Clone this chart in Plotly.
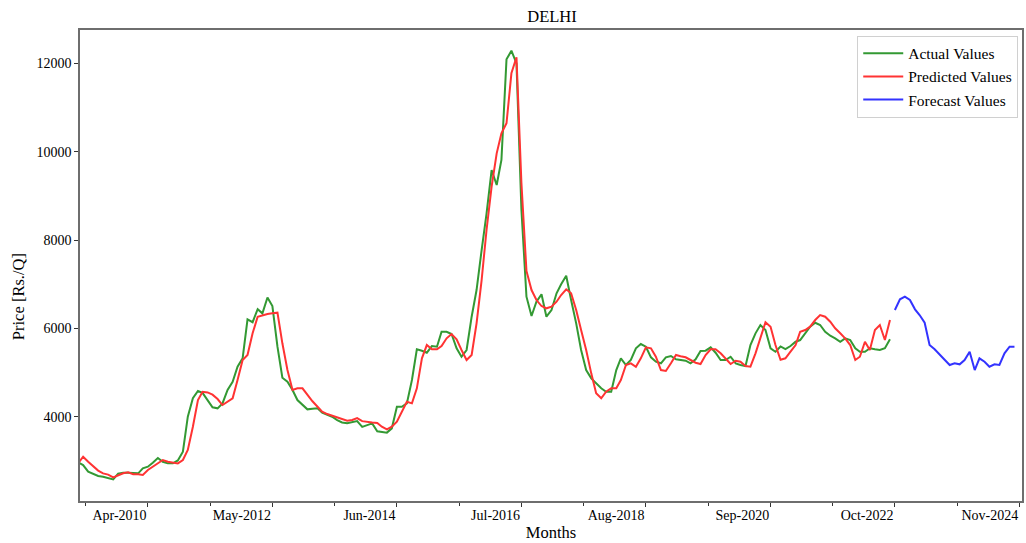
import pandas as pd
import plotly.graph_objects as go

# Monthly onion prices for Delhi (Rs./quintal)
actual_start = "2009-02-01"
actual_values = [
    2960, 2906, 2755, 2700, 2660, 2642, 2610, 2582, 2710, 2732,
    2730, 2720, 2718, 2832, 2868, 2960, 3065, 2981, 2944, 2944,
    3010, 3208, 4000, 4420, 4582, 4540, 4380, 4213, 4190, 4303,
    4605, 4792, 5132, 5322, 6205, 6140, 6435, 6340, 6700, 6506,
    5585, 4883, 4792, 4604, 4378, 4265, 4167, 4180, 4190, 4091,
    4040, 4000, 3925, 3870, 3850, 3880, 3900, 3770, 3810, 3850,
    3670, 3660, 3640, 3737, 4226, 4226, 4303, 4831, 5526, 5494,
    5449, 5600, 5585, 5924, 5924, 5872, 5549, 5358, 5510, 6264,
    6868, 7774, 8600, 9585, 9245, 9812, 12091, 12287, 12000, 8700,
    6717, 6280, 6604, 6771, 6264, 6416, 6794, 7000, 7193, 6642,
    6114, 5510, 5057, 4869, 4756, 4643, 4566, 4566, 5057, 5322,
    5171, 5284, 5549, 5646, 5585, 5345, 5245, 5209, 5345, 5374,
    5299, 5280, 5268, 5209, 5299, 5487, 5495, 5571, 5449, 5284,
    5284, 5358, 5209, 5171, 5148, 5623, 5888, 6076, 5963, 5549,
    5472, 5590, 5530, 5600, 5698, 5736, 5902, 6038, 6128, 6076,
    5924, 5834, 5775, 5698, 5775, 5736, 5549, 5472, 5472, 5549,
    5526, 5510, 5549, 5752,
]
predicted_values = [
    2959, 3094, 2980, 2870, 2780, 2718, 2690, 2628, 2680, 2720,
    2741, 2700, 2696, 2680, 2793, 2870, 2950, 3020, 2981, 2960,
    2944, 3020, 3246, 3774, 4378, 4566, 4550, 4500, 4400, 4265,
    4350, 4417, 4830, 5283, 5396, 5888, 6264, 6302, 6325, 6340,
    6355, 5662, 5057, 4604, 4642, 4642, 4491, 4350, 4226, 4113,
    4060, 4020, 3990, 3950, 3910, 3925, 3970, 3900, 3880, 3870,
    3860, 3774, 3714, 3774, 3887, 4113, 4340, 4303, 4643, 5322,
    5623, 5526, 5526, 5600, 5775, 5872, 5752, 5510, 5284, 5397,
    6114, 7095, 8227, 9207, 9963, 10416, 10643, 11775, 12137, 9300,
    7300, 6868, 6642, 6506, 6454, 6490, 6604, 6755, 6884, 6794,
    6416, 5963, 5510, 4982, 4530, 4417, 4566, 4643, 4643, 4831,
    5171, 5209, 5132, 5322, 5571, 5549, 5358, 5057, 5035, 5209,
    5397, 5370, 5345, 5284, 5223, 5193, 5397, 5526, 5526, 5435,
    5322, 5193, 5268, 5245, 5148, 5132, 5435, 5775, 6140, 6038,
    5623, 5290, 5322, 5472, 5623, 5924, 5963, 6038, 6189, 6302,
    6264, 6151, 6001, 5888, 5775, 5623, 5284, 5358, 5698, 5510,
    5963, 6076, 5736, 6189,
]
forecast_start = "2022-10-01"
forecast_values = [
    6416, 6658, 6717, 6642, 6431, 6302, 6128, 5623, 5526, 5420,
    5290, 5171, 5209, 5186, 5284, 5472, 5057, 5322, 5245, 5132,
    5186, 5171, 5435, 5585, 5585,
]

tick_labels = ["Apr-2010", "May-2012", "Jun-2014", "Jul-2016",
               "Aug-2018", "Sep-2020", "Oct-2022", "Nov-2024"]
y_ticks = [4000, 6000, 8000, 10000, 12000]

actual_dates = pd.date_range(actual_start, periods=len(actual_values), freq="MS")
forecast_dates = pd.date_range(forecast_start, periods=len(forecast_values), freq="MS")

major = pd.to_datetime(tick_labels, format="%b-%Y")
half = (major[1] - major[0]) / 2
minor = [major[0] - half] + [major[i] + (major[i + 1] - major[i]) / 2
                             for i in range(len(major) - 1)]

FONT = "Liberation Serif, Times New Roman, serif"
AXIS_COLOR = "#6e6e6e"

fig = go.Figure()
fig.add_trace(go.Scatter(x=actual_dates, y=actual_values, mode="lines",
                         name="Actual Values",
                         line=dict(color="#339933", width=2)))
fig.add_trace(go.Scatter(x=actual_dates, y=predicted_values, mode="lines",
                         name="Predicted Values",
                         line=dict(color="#ff3333", width=2)))
fig.add_trace(go.Scatter(x=forecast_dates, y=forecast_values, mode="lines",
                         name="Forecast Values",
                         line=dict(color="#3333ff", width=2)))

fig.update_layout(
    width=1026, height=543,
    margin=dict(l=80, r=2, t=30, b=42),
    paper_bgcolor="white", plot_bgcolor="white",
    font=dict(family=FONT, size=14, color="black"),
    title=dict(text="DELHI", x=0.538, xanchor="center", y=1 - 16 / 543,
               yanchor="middle", font=dict(size=16.5, family=FONT)),
    showlegend=True,
    legend=dict(x=0.996, y=0.988, xanchor="right", yanchor="top",
                bgcolor="white", bordercolor="#d0d0d0", borderwidth=1,
                itemwidth=40,
                font=dict(size=15.5, family=FONT), tracegroupgap=0),
)

fig.update_xaxes(
    type="date",
    range=["2009-02-10", "2024-11-16"],
    tickmode="array", tickvals=list(major), ticktext=tick_labels,
    ticks="outside", ticklen=4, tickwidth=1.2, tickcolor="#333333",
    ticklabelposition="outside left",
    minor=dict(tickmode="array", tickvals=minor, ticks="outside",
               ticklen=3, tickwidth=1, tickcolor="#333333"),
    showgrid=False, zeroline=False,
    showline=True, linecolor=AXIS_COLOR, linewidth=1.5, mirror=True,
    tickfont=dict(size=14, family=FONT),
    title=dict(text="Months", font=dict(size=16.5, family=FONT), standoff=5),
)
fig.update_yaxes(
    range=[2092, 12755],
    tickmode="array", tickvals=y_ticks, tickformat="d",
    ticks="outside", ticklen=4, tickwidth=1.2, tickcolor="#333333",
    showgrid=False, zeroline=False,
    showline=True, linecolor=AXIS_COLOR, linewidth=1.5, mirror=True,
    tickfont=dict(size=14, family=FONT),
)

fig.add_annotation(text="Price [Rs./Q]", textangle=-90,
                   xref="paper", yref="paper", x=(18 - 80) / 944,
                   y=(501 - 297) / 471, xanchor="center", yanchor="middle",
                   showarrow=False, font=dict(size=16.5, family=FONT))

fig.write_html("out.html")
